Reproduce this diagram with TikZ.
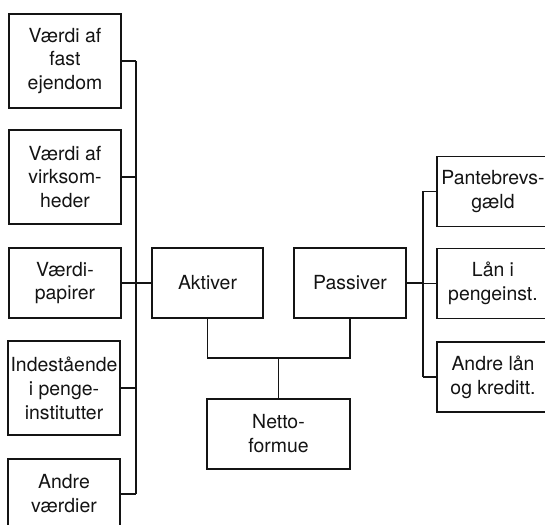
\documentclass[tikz,border=0pt]{standalone}
\usepackage{fontspec}
\setmainfont{TeX Gyre Heros}
\usetikzlibrary{positioning,calc}
\definecolor{fmInk}{RGB}{20,20,20}
\begin{document}
\begin{tikzpicture}[x=1bp,y=-1bp]
\tikzset{
post/.style={draw=fmInk,line width=1.4bp,fill=white,align=center,inner sep=0pt,
font=\fontsize{19.5}{24}\selectfont,text=fmInk,minimum width=112bp,minimum height=94bp},
postlow/.style={post,minimum height=70bp},
link/.style={draw=fmInk,line width=1.4bp}
}
\useasboundingbox (0,0) rectangle (545,525);
% venstre side: aktiver
\node[post] (v1) at (65,61) {Værdi af\\fast\\ejendom};
\node[post] (v2) at (65,177) {Værdi af\\virksom-\\heder};
\node[postlow] (v3) at (65,283) {Værdi-\\papirer};
\node[post] (v4) at (64,388) {Indestående\\i penge-\\institutter};
\node[postlow] (v5) at (64,494) {Andre\\værdier};
\node[postlow,minimum width=111bp] (akt) at (207.5,283) {Aktiver};
\node[postlow] (pas) at (350,283) {Passiver};
\node[postlow,minimum width=143bp] (netto) at (278.5,434) {Netto-\\formue};
% højre side: passiver
\node[postlow] (g1) at (493,191.5) {Pantebrevs-\\gæld};
\node[postlow] (g2) at (493,283.5) {Lån i\\pengeinst.};
\node[postlow] (g3) at (493,377) {Andre lån\\og kreditt.};
\coordinate (ltop) at (136,61);
\coordinate (rtop) at (423,191.5);
\coordinate (mid) at (278.5,358);
\draw[link] (ltop) -- (ltop |- v5.east);
\foreach \b in {v1,v2,v3,v4,v5} \draw[link] (\b.east) -- (\b.east -| ltop);
\draw[link] (akt.west) -- (akt.west -| ltop);
\draw[link] (rtop) -- (rtop |- g3.west);
\foreach \b in {g1,g2,g3} \draw[link] (\b.west) -- (\b.west -| rtop);
\draw[link] (pas.east) -- (pas.east -| rtop);
\draw[link] (akt.south) |- (mid) -| (pas.south);
\draw[link] (mid) -- (netto.north);
\end{tikzpicture}
\end{document}
